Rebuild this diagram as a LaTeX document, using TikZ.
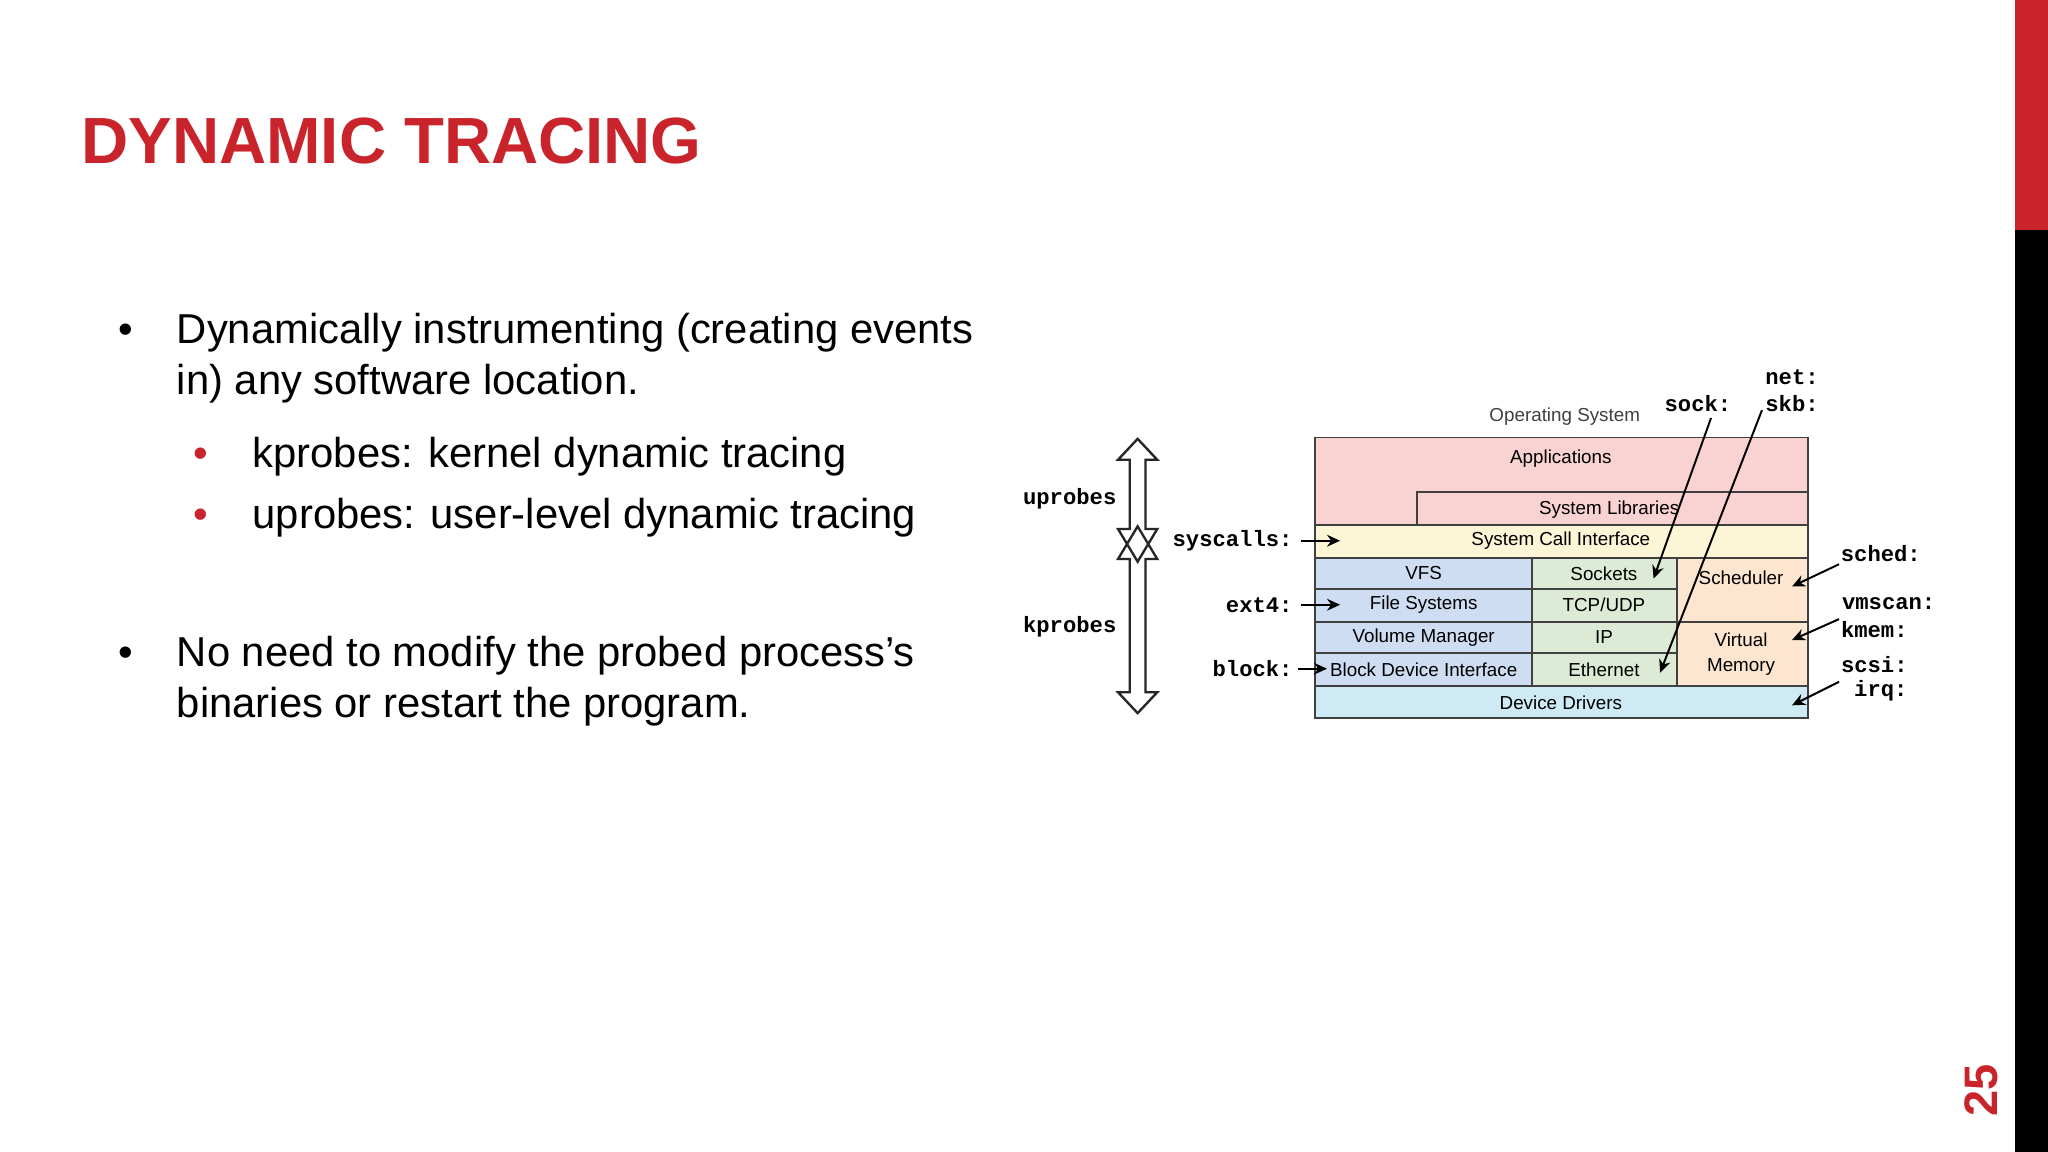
\documentclass[tikz,border=0pt]{standalone}
\usepackage{fontspec}
\setmainfont{Liberation Sans}
\setmonofont{Liberation Mono}
\usetikzlibrary{arrows.meta}
\definecolor{tred}{HTML}{C9232B}
\definecolor{cpink}{HTML}{F9D2D2}
\definecolor{cyel}{HTML}{FCF5D6}
\definecolor{cblue}{HTML}{CFDDF3}
\definecolor{cgreen}{HTML}{DDEAD5}
\definecolor{corange}{HTML}{FCE6D0}
\definecolor{ccyan}{HTML}{CDEAF5}
\tikzset{
 lay/.style={draw=black!75, line width=0.7pt},
 dtxt/.style={font=\fontsize{7.2}{8.5}\selectfont, inner sep=0pt},
 mtxt/.style={font=\fontsize{8.5}{10}\selectfont\ttfamily\bfseries, inner sep=0pt},
 parr/.style={-{Stealth[length=5pt,width=4.5pt]}, line width=0.75pt},
 btxt/.style={font=\fontsize{16}{19}\selectfont, anchor=base west, inner sep=0pt},
 harr/.style={line width=0.9pt, black!85, line join=miter},
}
\begin{document}
\begin{tikzpicture}[x=0.5pt,y=-0.5pt]
\useasboundingbox (0,0) rectangle (1568,882);
\fill[white] (0,0) rectangle (1568,882);
\fill[tred] (1543,0) rectangle (1568,176);
\fill[black] (1543,176) rectangle (1568,882);
\node[rotate=90, text=tred, font=\fontsize{18}{20}\selectfont\bfseries, inner sep=0pt] (pg) at (1517,835) {25};
\node[anchor=base west, text=tred, font=\fontsize{25}{28}\selectfont\bfseries, inner sep=0pt] (title) at (62,125) {DYNAMIC TRACING};
% bullets
\node[btxt] (b1) at (90,263) {•};
\node[btxt] (t1) at (135,263) {Dynamically instrumenting (creating events};
\node[btxt] (t1b) at (135,302) {in) any software location.};
\node[btxt,text=tred] (b2) at (148,358) {•};
\node[btxt] (t2) at (193,358) {kprobes: kernel dynamic tracing};
\node[btxt,text=tred] (b3) at (148,405) {•};
\node[btxt] (t3) at (193,405) {uprobes: user-level dynamic tracing};
\node[btxt] (b4) at (90,510) {•};
\node[btxt] (t4) at (135,510) {No need to modify the probed process{\char"27}s};
\node[btxt] (t4b) at (135,549) {binaries or restart the program.};
% diagram layers
\fill[cpink] (1007,335) rectangle (1384,402);
\fill[cyel] (1007,402) rectangle (1384,427);
\fill[cblue] (1007,427) rectangle (1173,525);
\fill[cgreen] (1173,427) rectangle (1284,525);
\fill[corange] (1284,427) rectangle (1384,525);
\fill[ccyan] (1007,525) rectangle (1384,550);
\draw[lay] (1007,335) rectangle (1384,550);
\draw[lay] (1085,402) -- (1085,377) -- (1384,377);
\draw[lay] (1007,402) -- (1384,402);
\draw[lay] (1007,427) -- (1384,427);
\draw[lay] (1007,451) -- (1284,451);
\draw[lay] (1007,476) -- (1384,476);
\draw[lay] (1007,500) -- (1284,500);
\draw[lay] (1007,525) -- (1384,525);
\draw[lay] (1173,427) -- (1173,525);
\draw[lay] (1284,427) -- (1284,525);
\node[dtxt] (app) at (1195,351) {Applications};
\node[dtxt] (lib) at (1232,390) {System Libraries};
\node[dtxt] (sci) at (1195,414) {System Call Interface};
\node[dtxt] (vfs) at (1090,439) {VFS};
\node[dtxt] (fs) at (1090,463) {File Systems};
\node[dtxt] (vm) at (1090,488) {Volume Manager};
\node[dtxt] (bdi) at (1090,513) {Block Device Interface};
\node[dtxt] (sock) at (1228,439) {Sockets};
\node[dtxt] (tcp) at (1228,463) {TCP/UDP};
\node[dtxt] (ip) at (1228,488) {IP};
\node[dtxt] (eth) at (1228,513) {Ethernet};
\node[dtxt] (sch) at (1333,442) {Scheduler};
\node[dtxt, align=center] (virt) at (1333,501) {Virtual\\[1pt]Memory};
\node[dtxt] (dd) at (1195,538) {Device Drivers};
\node[dtxt, text=black!75] (os) at (1198,319) {Operating System};
% mono labels
\node[mtxt, anchor=east] (lsys) at (990,414) {syscalls:};
\node[mtxt, anchor=east] (lext) at (990,463) {ext4:};
\node[mtxt, anchor=east] (lblk) at (990,512) {block:};
\node[mtxt] (lsock) at (1300,309) {sock:};
\node[mtxt] (lnet) at (1372,289) {net:};
\node[mtxt] (lskb) at (1372,309) {skb:};
\node[mtxt] (lsch) at (1440,424) {sched:};
\node[mtxt] (lvms) at (1446,462) {vmscan:};
\node[mtxt] (lkm) at (1435,482) {kmem:};
\node[mtxt] (lscsi) at (1435,509) {scsi:};
\node[mtxt] (lirq) at (1440,529) {irq:};
\node[mtxt] (lup) at (819,382) {uprobes};
\node[mtxt] (lkp) at (819,480) {kprobes};
\coordinate (a1) at (1026,414); \coordinate (a2) at (1026,463); \coordinate (a3) at (1016,512);
\draw[parr] (lsys.east) ++(3pt,0) -- (a1);
\draw[parr] (lext.east) ++(3pt,0) -- (a2);
\draw[parr] (lblk.east) ++(2pt,0) -- (a3);
\coordinate (s1) at (1310,320); \coordinate (s2) at (1266,443);
\coordinate (k1) at (1349,314); \coordinate (k2) at (1271,515);
\draw[parr] (s1) -- (s2);
\draw[parr] (k1) -- (k2);
\coordinate (c1) at (1408,432); \coordinate (c2) at (1372,449);
\coordinate (c3) at (1408,474); \coordinate (c4) at (1372,490);
\coordinate (c5) at (1408,522); \coordinate (c6) at (1372,540);
\draw[parr] (c1) -- (c2);
\draw[parr] (c3) -- (c4);
\draw[parr] (c5) -- (c6);
% hollow double arrows crossing into an X
\draw[harr]
 (871,336) -- (886,352) -- (877,352) -- (877,405) -- (886,405) -- (871,430) -- (856,405) -- (865,405) -- (865,352) -- (856,352) -- cycle;
\draw[harr]
 (871,403) -- (886,428) -- (877,428) -- (877,530) -- (886,530) -- (871,546) -- (856,530) -- (865,530) -- (865,428) -- (856,428) -- cycle;
\end{tikzpicture}
\end{document}
